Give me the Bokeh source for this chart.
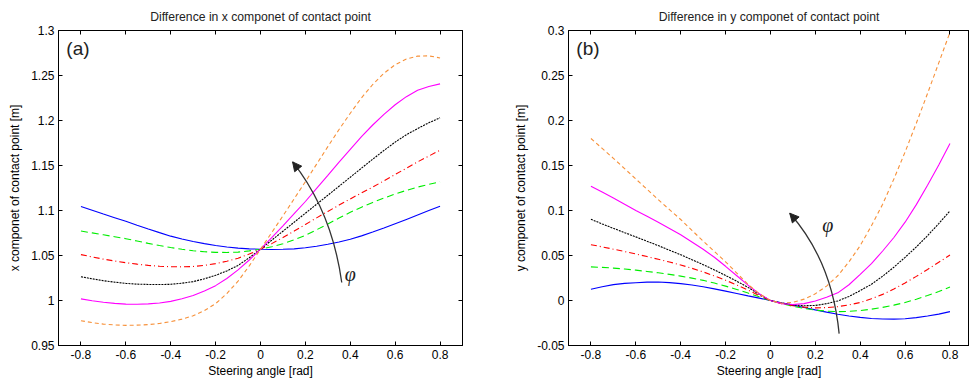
from bokeh.plotting import figure
from bokeh.layouts import row
from bokeh.models import FixedTicker, LinearAxis, Range1d, Arrow, NormalHead, Label
from bokeh.embed import file_html
from bokeh.resources import INLINE

# ---------------- data ----------------
steer = [-0.8, -0.75, -0.7, -0.65, -0.6, -0.55, -0.5, -0.45, -0.4, -0.35, -0.3,
         -0.25, -0.2, -0.15, -0.1, -0.05, 0.0, 0.05, 0.1, 0.15, 0.2, 0.25, 0.3,
         0.35, 0.4, 0.45, 0.5, 0.55, 0.6, 0.65, 0.7, 0.75, 0.8]

# (a) x component of contact point [m]
xa_blue = [1.1045, 1.1003, 1.096, 1.092, 1.088, 1.0837, 1.0795, 1.0754, 1.0715,
           1.0683, 1.0655, 1.0632, 1.0612, 1.0595, 1.0582, 1.0574, 1.057, 1.0567,
           1.0569, 1.0574, 1.0586, 1.0603, 1.0625, 1.065, 1.068, 1.0718, 1.076,
           1.0805, 1.0853, 1.0901, 1.095, 1.0999, 1.1048]
xa_green = [1.0772, 1.0751, 1.073, 1.0709, 1.0687, 1.0661, 1.0635, 1.0611, 1.0588,
            1.0569, 1.0553, 1.0542, 1.0535, 1.0534, 1.0538, 1.0551, 1.057, 1.0597,
            1.063, 1.0675, 1.0724, 1.0786, 1.085, 1.0916, 1.098, 1.1037, 1.109,
            1.1138, 1.1184, 1.1223, 1.126, 1.129, 1.132]
xa_red = [1.051, 1.0484, 1.046, 1.0439, 1.042, 1.0404, 1.039, 1.0381, 1.0375,
          1.0374, 1.0378, 1.039, 1.041, 1.0436, 1.047, 1.0516, 1.057, 1.0632,
          1.07, 1.0772, 1.0845, 1.0918, 1.099, 1.106, 1.1129, 1.1195, 1.126,
          1.133, 1.14, 1.147, 1.154, 1.1605, 1.167]
xa_black = [1.0264, 1.0241, 1.022, 1.0204, 1.019, 1.0182, 1.0178, 1.0177, 1.018,
            1.0192, 1.021, 1.0241, 1.028, 1.0329, 1.039, 1.0475, 1.057, 1.067,
            1.077, 1.087, 1.097, 1.107, 1.117, 1.127, 1.137, 1.147, 1.157,
            1.1667, 1.176, 1.1842, 1.191, 1.1975, 1.203]
xa_magenta = [1.0018, 0.9997, 0.998, 0.9968, 0.996, 0.9958, 0.9962, 0.9972, 0.999,
              1.0019, 1.0055, 1.0105, 1.0165, 1.0245, 1.034, 1.045, 1.057, 1.0698,
              1.083, 1.0965, 1.11, 1.1245, 1.139, 1.1537, 1.168, 1.182, 1.195,
              1.2068, 1.2175, 1.2265, 1.2335, 1.2378, 1.2407]
xa_orange = [0.9775, 0.9754, 0.9738, 0.9729, 0.9724, 0.9726, 0.9732, 0.9745, 0.9765,
             0.9793, 0.983, 0.9888, 0.9965, 1.0077, 1.0215, 1.0385, 1.057, 1.0755,
             1.094, 1.113, 1.132, 1.1515, 1.171, 1.19, 1.208, 1.2252, 1.24,
             1.2525, 1.262, 1.2683, 1.2715, 1.2718, 1.2695]

# (b) y component of contact point [m]
yb_blue = [0.0125, 0.0153, 0.0176, 0.019, 0.0198, 0.0204, 0.0205, 0.0199, 0.0188,
           0.0172, 0.0152, 0.0129, 0.0104, 0.0078, 0.0051, 0.0026, 0.0, -0.0026,
           -0.0051, -0.0078, -0.0104, -0.0129, -0.0152, -0.0172, -0.0188, -0.02,
           -0.0206, -0.0207, -0.0202, -0.019, -0.0172, -0.0151, -0.0124]
yb_green = [0.0374, 0.0368, 0.036, 0.035, 0.0337, 0.0323, 0.0308, 0.029, 0.0271,
            0.0249, 0.0224, 0.0194, 0.016, 0.0123, 0.0083, 0.0041, 0.0, -0.0034,
            -0.0064, -0.0088, -0.0107, -0.0118, -0.0124, -0.0121, -0.0112, -0.0096,
            -0.0076, -0.0051, -0.0022, 0.0014, 0.0055, 0.0099, 0.015]
yb_red = [0.062, 0.0596, 0.057, 0.0544, 0.0517, 0.0488, 0.0458, 0.0428, 0.0395,
          0.0358, 0.0318, 0.0273, 0.0225, 0.0172, 0.0116, 0.0055, 0.0, -0.0035,
          -0.0058, -0.0074, -0.0082, -0.0079, -0.0068, -0.0049, -0.0022, 0.0019,
          0.0068, 0.0128, 0.0195, 0.0268, 0.0345, 0.0425, 0.0505]
yb_black = [0.0902, 0.0851, 0.0802, 0.0754, 0.0707, 0.0658, 0.061, 0.0559, 0.0508,
            0.0454, 0.0398, 0.034, 0.0278, 0.0214, 0.0146, 0.0068, 0.0, -0.003,
            -0.0048, -0.0058, -0.0055, -0.0035, -0.0005, 0.0045, 0.011, 0.018,
            0.027, 0.037, 0.048, 0.0595, 0.072, 0.0855, 0.0995]
yb_magenta = [0.127, 0.1205, 0.114, 0.107, 0.1, 0.0935, 0.087, 0.08, 0.073,
              0.065, 0.057, 0.048, 0.038, 0.0275, 0.017, 0.0075, 0.0, -0.0035,
              -0.0045, -0.0035, -0.0005, 0.0035, 0.0085, 0.0175, 0.029, 0.041,
              0.055, 0.07, 0.087, 0.1065, 0.128, 0.1505, 0.1745]
yb_orange = [0.18, 0.169, 0.158, 0.1465, 0.135, 0.1235, 0.112, 0.101, 0.09,
             0.078, 0.066, 0.0545, 0.043, 0.0305, 0.018, 0.0075, 0.0, -0.003,
             -0.002, 0.0015, 0.0075, 0.016, 0.0275, 0.043, 0.061, 0.083,
             0.107, 0.135, 0.165, 0.197, 0.23, 0.264, 0.298]

x_ticks = [-0.8, -0.6, -0.4, -0.2, 0.0, 0.2, 0.4, 0.6, 0.8]
x_tick_labels = ["-0.8", "-0.6", "-0.4", "-0.2", "0", "0.2", "0.4", "0.6", "0.8"]
ya_ticks = [0.95, 1.0, 1.05, 1.1, 1.15, 1.2, 1.25, 1.3]
ya_tick_labels = ["0.95", "1", "1.05", "1.1", "1.15", "1.2", "1.25", "1.3"]
yb_ticks = [-0.05, 0.0, 0.05, 0.1, 0.15, 0.2, 0.25, 0.3]
yb_tick_labels = ["-0.05", "0", "0.05", "0.1", "0.15", "0.2", "0.25", "0.3"]

title_a = "Difference in x componet of contact point"
title_b = "Difference in y componet of contact point"
xlabel = "Steering angle [rad]"
ylabel_a = "x componet of contact point [m]"
ylabel_b = "y componet of contact point [m]"

# annotation arrows (start, control, end) and phi label positions
arrow_a = dict(start=(0.362, 1.02), ctrl=(0.318, 1.099), end=(0.143, 1.154))
phi_a = (0.40, 1.029)
arrow_b = dict(start=(0.306, -0.0368), ctrl=(0.2745, 0.044), end=(0.086, 0.097))
phi_b = (0.256, 0.084)

FONT = "Liberation Sans"

styles = [
    ("#0000ff", "solid"),
    ("#00ee00", "7 4"),
    ("#ff0000", "6 3 1 3"),
    ("#000000", "2 1"),
    ("#ff00ff", "solid"),
    ("#f7913a", "4 3"),
]


def style_axis(ax, ticks, labels, show_labels=True):
    ax.ticker = FixedTicker(ticks=ticks)
    ax.major_tick_in = 4
    ax.major_tick_out = 0
    ax.minor_tick_line_color = None
    ax.axis_line_color = "black"
    ax.major_tick_line_color = "black"
    ax.major_label_text_font = FONT
    ax.major_label_text_color = "black"
    if show_labels:
        ax.major_label_overrides = {t: l for t, l in zip(ticks, labels)}
        ax.major_label_text_font_size = "12px"
        ax.major_label_standoff = 4
    else:
        ax.major_label_overrides = {t: "" for t in ticks}
        ax.major_label_text_font_size = "1px"
        ax.major_label_standoff = 0
    ax.axis_label_text_font = FONT
    ax.axis_label_text_font_size = "12px"
    ax.axis_label_text_font_style = "normal"
    ax.axis_label_text_color = "black"
    ax.axis_label_standoff = 6


def make_panel(title, ylabel, series, yticks, ylabels, yr, xr, arrow, phi, tag,
               width, border_left, border_right, right_axis):
    p = figure(width=width, height=380, x_range=Range1d(*xr), y_range=Range1d(*yr),
               output_backend="svg", toolbar_location=None,
               min_border_left=border_left, min_border_right=border_right,
               min_border_top=29, min_border_bottom=33)
    p.title.text = title
    p.title.align = "center"
    p.title.text_font = FONT
    p.title.text_font_size = "12.2px"
    p.title.text_font_style = "normal"
    p.title.text_color = "#222222"
    p.title.standoff = 14
    p.grid.visible = False
    p.outline_line_color = "black"
    p.outline_line_width = 1
    p.background_fill_color = "white"
    p.border_fill_color = "white"

    p.xaxis.axis_label = xlabel
    p.yaxis.axis_label = ylabel
    style_axis(p.xaxis[0], x_ticks, x_tick_labels)
    p.xaxis[0].axis_label_standoff = 2
    style_axis(p.yaxis[0], yticks, ylabels)
    top = LinearAxis()
    style_axis(top, x_ticks, x_tick_labels, show_labels=False)
    p.add_layout(top, "above")
    if right_axis:
        right = LinearAxis()
        style_axis(right, yticks, ylabels, show_labels=False)
        p.add_layout(right, "right")

    for ys, (col, dash) in zip(series, styles):
        p.line(steer, ys, line_color=col, line_width=1.1, line_dash=dash)

    (x0, y0), (cx, cy), (x1, y1) = arrow["start"], arrow["ctrl"], arrow["end"]
    p.quadratic(x0=[x0], y0=[y0], cx=[cx], cy=[cy], x1=[x1], y1=[y1],
                line_color="#333333", line_width=1.3)
    dx, dy = x1 - cx, y1 - cy
    p.add_layout(Arrow(end=NormalHead(size=9, fill_color="#222222", line_color="#222222"),
                       x_start=x1 - 0.08 * dx, y_start=y1 - 0.08 * dy,
                       x_end=x1, y_end=y1, line_color="#333333", line_width=1.3))
    p.add_layout(Label(x=phi[0], y=phi[1], text="φ", text_font="Liberation Serif",
                       text_font_style="italic", text_font_size="20px",
                       text_align="center", text_baseline="middle", text_color="#222222"))
    span = yr[1] - yr[0]
    p.add_layout(Label(x=xr[0] + 0.035, y=yr[1] - 0.008 * span / 0.35,
                       text=tag, text_font=FONT, text_font_size="19px",
                       text_align="left", text_baseline="top", text_color="#222222"))
    return p


pa = make_panel(title_a, ylabel_a,
                [xa_blue, xa_green, xa_red, xa_black, xa_magenta, xa_orange],
                ya_ticks, ya_tick_labels, (0.95, 1.3), (-0.9, 0.9),
                arrow_a, phi_a, "(a)", width=480, border_left=58, border_right=18,
                right_axis=True)
pb = make_panel(title_b, ylabel_b,
                [yb_blue, yb_green, yb_red, yb_black, yb_magenta, yb_orange],
                yb_ticks, yb_tick_labels, (-0.05, 0.3), (-0.9, 0.887),
                arrow_b, phi_b, "(b)", width=489, border_left=88, border_right=0,
                right_axis=False)

layout = row(pa, pb)
open("out.html", "w").write(file_html(layout, INLINE))
